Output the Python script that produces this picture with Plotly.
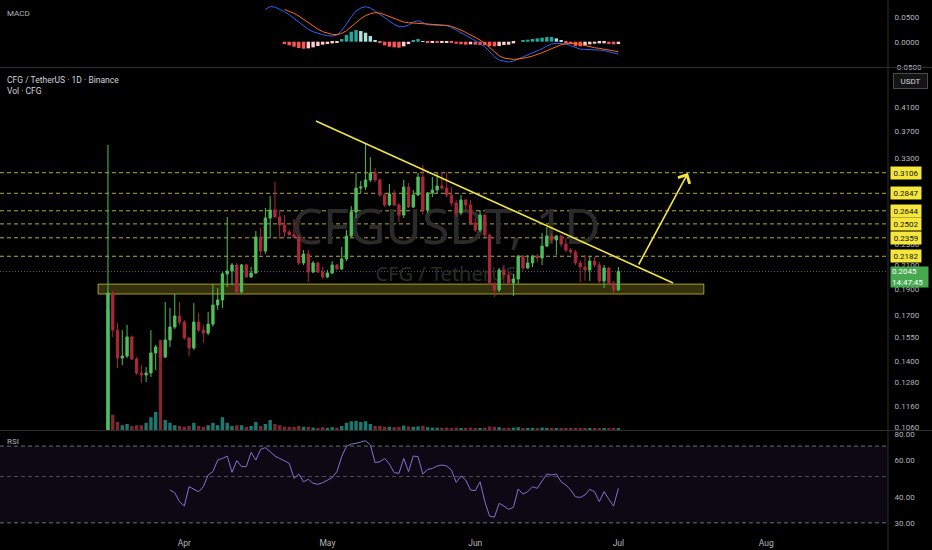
import math
import pandas as pd
import plotly.graph_objects as go

# daily candles, CFG / USDT
dates = pd.date_range("2025-03-16", periods=108, freq="D")

opens = [0.1000, 0.1868, 0.1597, 0.1419, 0.1431, 0.1551, 0.1413, 0.1332, 0.1321, 0.1332,
         0.1450, 0.1487, 0.1425, 0.1532, 0.1618, 0.1695, 0.1652, 0.1545, 0.1481, 0.1652,
         0.1597, 0.1577, 0.1638, 0.1775, 0.1814, 0.2025, 0.2050, 0.2103, 0.1876, 0.2103,
         0.1999, 0.2033, 0.2367, 0.2230, 0.2565, 0.2653, 0.2576, 0.2490, 0.2417, 0.2390,
         0.2367, 0.2121, 0.2202, 0.2041, 0.2121, 0.2041, 0.1999, 0.2033, 0.2103, 0.2068,
         0.2157, 0.2377, 0.2631, 0.2911, 0.2924, 0.3012, 0.3102, 0.3012, 0.2827, 0.2710,
         0.2839, 0.2710, 0.2597, 0.2924, 0.2687, 0.2827, 0.3050, 0.2653, 0.2851, 0.2887,
         0.2936, 0.2911, 0.2827, 0.2733, 0.2620, 0.2767, 0.2710, 0.2512, 0.2438, 0.2597,
         0.2387, 0.1949, 0.1892, 0.2059, 0.2016, 0.1949, 0.1982, 0.2184, 0.2076, 0.2121,
         0.2184, 0.2166, 0.2278, 0.2377, 0.2337, 0.2377, 0.2298, 0.2240, 0.2221, 0.2121,
         0.2085, 0.2059, 0.2138, 0.2103, 0.1966, 0.2076, 0.1949, 0.1892]
highs = [0.3492, 0.1884, 0.1645, 0.1597, 0.1632, 0.1561, 0.1425, 0.1378, 0.1366, 0.1597,
         0.1500, 0.1532, 0.1798, 0.1754, 0.1860, 0.1798, 0.1667, 0.1551, 0.1790, 0.1717,
         0.1632, 0.1724, 0.1941, 0.1908, 0.2041, 0.2576, 0.2120, 0.2120, 0.2112, 0.2112,
         0.2085, 0.2428, 0.2459, 0.2676, 0.2815, 0.2987, 0.2653, 0.2597, 0.2440, 0.2555,
         0.2385, 0.2240, 0.2240, 0.2138, 0.2130, 0.2085, 0.2059, 0.2138, 0.2112, 0.2269,
         0.2438, 0.2698, 0.3102, 0.3000, 0.3510, 0.3319, 0.3168, 0.3025, 0.2851, 0.2961,
         0.2887, 0.2731, 0.3012, 0.2974, 0.2887, 0.3102, 0.3209, 0.2863, 0.3050, 0.3102,
         0.3115, 0.3115, 0.2924, 0.2767, 0.2827, 0.2780, 0.2767, 0.2565, 0.2653, 0.2608,
         0.2400, 0.1949, 0.2076, 0.2103, 0.2041, 0.2025, 0.2193, 0.2193, 0.2193, 0.2193,
         0.2202, 0.2407, 0.2469, 0.2407, 0.2387, 0.2387, 0.2357, 0.2259, 0.2240, 0.2147,
         0.2193, 0.2175, 0.2175, 0.2130, 0.2103, 0.2085, 0.1966, 0.2085]
lows = [0.0985, 0.1551, 0.1360, 0.1378, 0.1419, 0.1407, 0.1321, 0.1277, 0.1282, 0.1310,
        0.1349, 0.1400, 0.1419, 0.1487, 0.1604, 0.1632, 0.1532, 0.1431, 0.1468, 0.1584,
        0.1513, 0.1564, 0.1620, 0.1740, 0.1754, 0.1916, 0.1932, 0.1860, 0.1868, 0.1991,
        0.1991, 0.2025, 0.2193, 0.2205, 0.2357, 0.2565, 0.2347, 0.2367, 0.2375, 0.2357,
        0.2103, 0.2103, 0.1957, 0.2033, 0.2033, 0.1983, 0.1991, 0.2025, 0.2059, 0.2059,
        0.2138, 0.2367, 0.2565, 0.2851, 0.2887, 0.2987, 0.2987, 0.2803, 0.2687, 0.2698,
        0.2698, 0.2522, 0.2565, 0.2676, 0.2676, 0.2815, 0.2608, 0.2620, 0.2803, 0.2851,
        0.2887, 0.2803, 0.2698, 0.2576, 0.2597, 0.2631, 0.2490, 0.2417, 0.2417, 0.2367,
        0.1932, 0.1837, 0.1876, 0.1949, 0.1932, 0.1845, 0.1941, 0.2059, 0.2068, 0.2085,
        0.2130, 0.2103, 0.2269, 0.2307, 0.2193, 0.2269, 0.2221, 0.2202, 0.2103, 0.1957,
        0.1966, 0.1966, 0.2085, 0.1949, 0.1908, 0.1932, 0.1868, 0.1884]
closes = [0.1868, 0.1597, 0.1419, 0.1431, 0.1551, 0.1413, 0.1332, 0.1321, 0.1332, 0.1450,
          0.1487, 0.1425, 0.1532, 0.1618, 0.1695, 0.1652, 0.1545, 0.1481, 0.1652, 0.1597,
          0.1577, 0.1638, 0.1775, 0.1814, 0.2025, 0.2050, 0.2103, 0.1876, 0.2103, 0.1999,
          0.2033, 0.2367, 0.2230, 0.2565, 0.2653, 0.2576, 0.2490, 0.2417, 0.2390, 0.2367,
          0.2121, 0.2202, 0.2041, 0.2121, 0.2041, 0.1999, 0.2033, 0.2103, 0.2068, 0.2157,
          0.2377, 0.2631, 0.2911, 0.2924, 0.3012, 0.3102, 0.3012, 0.2827, 0.2710, 0.2839,
          0.2710, 0.2597, 0.2924, 0.2687, 0.2827, 0.3050, 0.2653, 0.2851, 0.2887, 0.2936,
          0.2911, 0.2827, 0.2733, 0.2620, 0.2767, 0.2710, 0.2512, 0.2438, 0.2597, 0.2387,
          0.1949, 0.1892, 0.2059, 0.2016, 0.1949, 0.1982, 0.2184, 0.2076, 0.2121, 0.2184,
          0.2166, 0.2278, 0.2377, 0.2337, 0.2377, 0.2298, 0.2240, 0.2221, 0.2121, 0.2085,
          0.2059, 0.2138, 0.2103, 0.1966, 0.2076, 0.1949, 0.1892, 0.2045]
# volume in millions CFG
volumes = [30.0, 3.8, 2.0, 1.2, 1.5, 1.0, 1.2, 1.2, 1.8, 3.2,
           4.5, 22.5, 2.5, 1.8, 1.2, 1.0, 0.8, 1.0, 1.8, 1.0,
           0.8, 1.2, 1.8, 1.2, 3.2, 1.8, 1.0, 1.2, 1.2, 0.8,
           1.0, 2.0, 1.0, 1.5, 2.5, 1.5, 1.2, 0.8, 0.8, 0.8,
           1.0, 0.8, 0.8, 0.6, 0.5, 0.7, 0.5, 0.7, 0.6, 1.0,
           1.8, 2.2, 2.3, 2.0, 2.2, 1.5, 1.0, 1.0, 0.8, 0.8,
           0.7, 0.8, 1.1, 0.9, 0.8, 0.9, 1.0, 0.7, 0.6, 0.6,
           0.5, 0.6, 0.5, 0.6, 0.5, 0.4, 0.6, 0.5, 0.5, 0.6,
           0.9, 0.8, 0.7, 0.5, 0.5, 0.6, 0.7, 0.5, 0.4, 0.5,
           0.5, 0.6, 0.5, 0.4, 0.4, 0.4, 0.5, 0.4, 0.5, 0.5,
           0.4, 0.5, 0.4, 0.5, 0.4, 0.5, 0.4, 0.4]

# MACD (12, 26, 9): line from 2025-04-18, signal from 2025-04-22
macd_line = [0.0647, 0.0700, 0.0693, 0.0653, 0.0600, 0.0540, 0.0467, 0.0387, 0.0307, 0.0247,
             0.0200, 0.0167, 0.0140, 0.0120, 0.0113, 0.0133, 0.0220, 0.0353, 0.0500, 0.0613,
             0.0673, 0.0700, 0.0673, 0.0613, 0.0547, 0.0467, 0.0400, 0.0347, 0.0300, 0.0300,
             0.0333, 0.0393, 0.0420, 0.0380, 0.0340, 0.0333, 0.0333, 0.0327, 0.0320, 0.0287,
             0.0233, 0.0180, 0.0127, 0.0087, 0.0033, -0.0033, -0.0100, -0.0200, -0.0300, -0.0367,
             -0.0393, -0.0407, -0.0387, -0.0347, -0.0313, -0.0273, -0.0233, -0.0193, -0.0140, -0.0087,
             -0.0047, -0.0033, -0.0033, -0.0047, -0.0080, -0.0120, -0.0147, -0.0153, -0.0153, -0.0160,
             -0.0167, -0.0180, -0.0207, -0.0233, -0.0247]
signal_line = [0.0647, 0.0613, 0.0567, 0.0513, 0.0447, 0.0380, 0.0313, 0.0253, 0.0200, 0.0167,
               0.0147, 0.0140, 0.0167, 0.0220, 0.0300, 0.0380, 0.0460, 0.0520, 0.0560, 0.0580,
               0.0573, 0.0540, 0.0500, 0.0460, 0.0420, 0.0393, 0.0380, 0.0373, 0.0367, 0.0367,
               0.0360, 0.0347, 0.0347, 0.0340, 0.0327, 0.0307, 0.0273, 0.0233, 0.0187, 0.0140,
               0.0093, 0.0033, -0.0033, -0.0113, -0.0207, -0.0280, -0.0327, -0.0347, -0.0353, -0.0347,
               -0.0333, -0.0313, -0.0287, -0.0260, -0.0220, -0.0180, -0.0140, -0.0100, -0.0060, -0.0040,
               -0.0033, -0.0033, -0.0053, -0.0080, -0.0100, -0.0120, -0.0133, -0.0147, -0.0160, -0.0180,
               -0.0200]

# RSI 14, last 95 days
rsi = [43.1, 41.8, 37.9, 36.1, 44.7, 43.4, 42.3, 44.7, 50.9, 52.8,
       60.0, 61.1, 62.7, 52.4, 59.6, 55.8, 55.8, 65.3, 60.0, 67.5,
       68.8, 65.8, 62.7, 61.1, 59.4, 57.9, 49.0, 51.4, 47.2, 48.5,
       46.4, 45.9, 46.7, 48.1, 49.4, 52.8, 62.3, 69.9, 71.6, 72.2,
       73.0, 74.3, 70.8, 58.3, 58.9, 61.1, 57.4, 52.2, 51.8, 61.1,
       52.8, 62.7, 62.3, 51.4, 54.1, 54.7, 56.2, 56.8, 56.2, 53.7,
       46.9, 50.3, 48.1, 43.1, 42.8, 47.2, 37.9, 32.3, 31.9, 37.2,
       36.1, 34.8, 35.6, 43.6, 41.2, 42.3, 44.7, 43.9, 47.6, 51.4,
       50.9, 51.4, 47.2, 45.5, 43.1, 40.0, 39.7, 40.8, 43.4, 42.3,
       37.9, 42.3, 38.9, 36.1, 43.9]

level_prices = [0.3106, 0.2847, 0.2644, 0.2502, 0.2359, 0.2182]
price_ticks = [0.41, 0.37, 0.33, 0.29, 0.23, 0.21, 0.19, 0.17, 0.155, 0.14, 0.128, 0.116, 0.106]
rsi_ticks = [80, 60, 40, 30]
macd_ticks = [0.05, 0.0, -0.05]
month_ticks = ["2025-04-01", "2025-05-01", "2025-06-01", "2025-07-01", "2025-08-01"]
month_labels = ["Apr", "May", "Jun", "Jul", "Aug"]
last_price = 0.2045
countdown = "14:47:45"

# drawings on the chart
zone = (("2025-03-13 22:00", 0.186), ("2025-07-18 22:00", 0.194))
trend = (("2025-04-28 14:00", 0.3864), ("2025-07-12 11:00", 0.1949))
arrow = (("2025-07-05 02:00", 0.2094), ("2025-07-15 14:00", 0.3102))

BG = "#000000"
UP = "#4fbf5a"
DN = "#a8293a"
VUP = "#1c7870"
VDN = "#7a2a30"
YEL = "#f4e63c"
AXT = "#b2b5be"
SEP = "#2e2e2e"

vol_colors = [VUP if c >= o else VDN for o, c in zip(opens, closes)]

hist = [m - s for m, s in zip(macd_line[len(macd_line) - len(signal_line):], signal_line)]
hist_colors = []
prev = 0.0
for h in hist:
    if h >= 0:
        hist_colors.append("#26a69a" if h >= prev else "#b2dfdb")
    else:
        hist_colors.append("#ffcdd2" if h > prev else "#ff5252")
    prev = h

day = 86400000

fig = go.Figure()

# volume, on the hidden base axis of the price pane
fig.add_trace(go.Bar(x=dates, y=volumes, marker=dict(color=vol_colors, line=dict(width=0)),
                     width=0.72 * day, xaxis="x", yaxis="y2", hoverinfo="skip"))
# watermark
fig.add_trace(go.Scatter(x=["2025-05-25 21:00", "2025-05-25 21:00"], y=[49.7, 38.5], mode="text",
                         text=["CFGUSDT, 1D", "CFG / TetherUS"],
                         textfont=dict(size=[50, 20], color="#2b2b2b", family="Noto Sans"),
                         xaxis="x", yaxis="y2", hoverinfo="skip"))

fig.add_trace(go.Candlestick(x=dates, open=opens, high=highs, low=lows, close=closes,
                             increasing=dict(line=dict(color=UP, width=1), fillcolor=UP),
                             decreasing=dict(line=dict(color=DN, width=1), fillcolor=DN),
                             whiskerwidth=0, xaxis="x", yaxis="y4", hoverinfo="skip"))

fig.add_trace(go.Scatter(x=[trend[0][0], trend[1][0]], y=[trend[0][1], trend[1][1]], mode="lines",
                         line=dict(color=YEL, width=1.6), xaxis="x", yaxis="y4", hoverinfo="skip"))

# MACD pane
fig.add_trace(go.Bar(x=dates[len(dates) - len(hist):], y=hist, marker=dict(color=hist_colors, line=dict(width=0)),
                     width=0.72 * day, xaxis="x", yaxis="y", hoverinfo="skip"))
fig.add_trace(go.Scatter(x=dates[len(dates) - len(macd_line):], y=macd_line, mode="lines",
                         line=dict(color="#2962ff", width=1), xaxis="x", yaxis="y", hoverinfo="skip"))
fig.add_trace(go.Scatter(x=dates[len(dates) - len(signal_line):], y=signal_line, mode="lines",
                         line=dict(color="#ff6d00", width=1), xaxis="x", yaxis="y", hoverinfo="skip"))

# RSI pane
fig.add_trace(go.Scatter(x=dates[len(dates) - len(rsi):], y=rsi, mode="lines",
                         line=dict(color="#8470d0", width=1), xaxis="x", yaxis="y3", hoverinfo="skip"))

shapes = []
shapes.append(dict(type="rect", xref="x", yref="y4", x0=zone[0][0], x1=zone[1][0], y0=zone[0][1], y1=zone[1][1],
                   fillcolor="rgba(240,225,60,0.22)", line=dict(color="rgba(240,225,60,0.65)", width=1), layer="below"))
for p in level_prices:
    shapes.append(dict(type="line", xref="paper", yref="y4", x0=0, x1=1, y0=p, y1=p,
                       line=dict(color="rgba(225,215,70,0.8)", width=1, dash="4px,3px"), layer="below"))
shapes.append(dict(type="line", xref="paper", yref="y4", x0=0, x1=1, y0=last_price, y1=last_price,
                   line=dict(color="rgba(170,170,170,0.6)", width=1, dash="1px,2px"), layer="below"))
shapes.append(dict(type="rect", xref="paper", yref="y3", x0=0, x1=1, y0=30, y1=70,
                   fillcolor="rgba(126,87,194,0.1)", line=dict(width=0), layer="below"))
for v, col in [(70, "rgba(120,123,134,0.9)"), (50, "rgba(120,123,134,0.6)"), (30, "rgba(120,123,134,0.9)")]:
    shapes.append(dict(type="line", xref="paper", yref="y3", x0=0, x1=1, y0=v, y1=v,
                       line=dict(color=col, width=1, dash="4px,3px"), layer="below"))
# pane separators and price scale border
for yp in [1 - 67.5 / 532, 1 - 430.5 / 532]:
    shapes.append(dict(type="line", xref="paper", yref="paper", x0=0, x1=932 / 888, y0=yp, y1=yp,
                       line=dict(color=SEP, width=1)))
shapes.append(dict(type="line", xref="paper", yref="paper", x0=1, x1=1, y0=-18 / 532, y1=1,
                   line=dict(color=SEP, width=1)))

annotations = []
annotations.append(dict(xref="paper", yref="paper", x=5 / 888, y=1 - 13 / 532, text="MACD", showarrow=False,
                        xanchor="left", yanchor="middle", font=dict(size=8, color=AXT)))
annotations.append(dict(xref="paper", yref="paper", x=5 / 888, y=1 - 80 / 532, text="CFG / TetherUS · 1D · Binance",
                        showarrow=False, xanchor="left", yanchor="middle", font=dict(size=8.5, color="#d1d4dc")))
annotations.append(dict(xref="paper", yref="paper", x=5 / 888, y=1 - 91 / 532, text="Vol · CFG",
                        showarrow=False, xanchor="left", yanchor="middle", font=dict(size=8.5, color="#d1d4dc")))
annotations.append(dict(xref="paper", yref="paper", x=5 / 888, y=1 - 441 / 532, text="RSI", showarrow=False,
                        xanchor="left", yanchor="middle", font=dict(size=8, color=AXT)))
annotations.append(dict(xref="paper", yref="paper", x=893 / 888, y=1 - 80.8 / 532, text="USDT", showarrow=False,
                        xanchor="left", yanchor="middle", width=31, height=12, bgcolor="#141414",
                        bordercolor="#4a4a4a", borderwidth=1, borderpad=1, font=dict(size=8, color="#d1d4dc")))
for p in level_prices:
    annotations.append(dict(xref="paper", yref="y4", x=890 / 888, y=math.log10(p), text="%.4f" % p,
                            showarrow=False, xanchor="left", yanchor="middle", width=28, height=10,
                            bgcolor=YEL, borderpad=1, font=dict(size=8, color="#111111")))
annotations.append(dict(xref="paper", yref="y4", x=890 / 888, y=math.log10(last_price),
                        text="%.4f<br>%s" % (last_price, countdown), showarrow=False, xanchor="left",
                        yanchor="top", yshift=6, width=35, height=18, bgcolor="#47a94f", borderpad=1,
                        align="left", font=dict(size=8, color="#ffffff")))
annotations.append(dict(xref="x", yref="y4", x=arrow[1][0], y=math.log10(arrow[1][1]),
                        axref="x", ayref="y4", ax=arrow[0][0], ay=math.log10(arrow[0][1]),
                        text="", showarrow=True, arrowhead=4, arrowsize=1.6, arrowwidth=1.6,
                        arrowcolor=YEL, standoff=0, startstandoff=0))

axis_common = dict(showgrid=False, zeroline=False, showline=False, side="right", anchor="x",
                   ticks="outside", ticklen=4, tickcolor=BG, tickfont=dict(size=8, color=AXT))

fig.update_layout(
    width=932, height=550,
    margin=dict(l=0, r=44, t=0, b=18),
    paper_bgcolor=BG, plot_bgcolor=BG,
    font=dict(family="Roboto", size=8, color=AXT),
    showlegend=False, hovermode=False,
    xaxis=dict(domain=[0, 1], anchor="y3", type="date",
               range=["2025-02-21 08:45", "2025-08-26 12:30"],
               tickvals=month_ticks, ticktext=month_labels,
               showgrid=False, zeroline=False, showline=False,
               ticks="outside", ticklen=3, tickcolor=BG,
               tickfont=dict(size=8.5, color=AXT),
               rangeslider=dict(visible=False)),
    yaxis=dict(domain=[1 - 67 / 532, 1], range=[-0.0506, 0.0834],
               tickvals=macd_ticks, ticktext=["%.4f" % v for v in macd_ticks], **axis_common),
    yaxis2=dict(domain=[1 - 430 / 532, 1 - 68 / 532], range=[0, 90.5], visible=False, anchor="x"),
    yaxis4=dict(overlaying="y2", type="log", range=[math.log10(0.1047), math.log10(0.4835)],
                tickvals=price_ticks, ticktext=["%.4f" % v for v in price_ticks], **axis_common),
    yaxis3=dict(domain=[0, 1 - 431 / 532], type="log", range=[math.log10(27.1), math.log10(82.7)],
                tickvals=rsi_ticks, ticktext=["%.2f" % v for v in rsi_ticks], **axis_common),
    shapes=shapes,
    annotations=annotations,
)

# page margin off so the chart sits at the window's corner
fig.write_html("out.html", config={"displayModeBar": False},
               post_script="document.body.style.margin='0px';document.body.style.background='#000';")
